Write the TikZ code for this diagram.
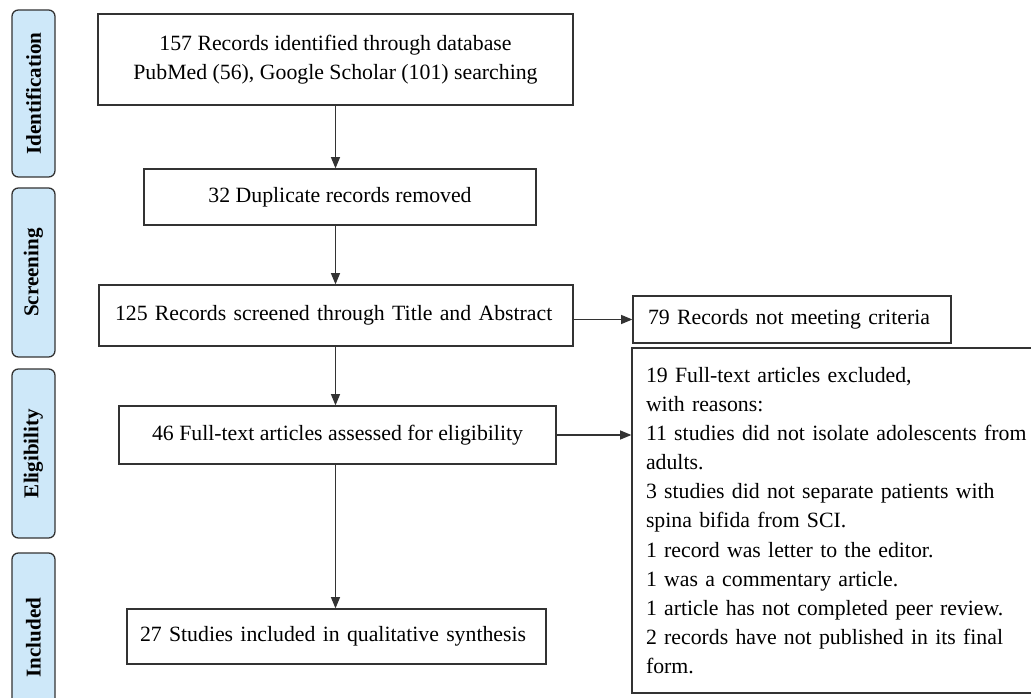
\documentclass[tikz,border=0pt]{standalone}
\usepackage{fontspec}
\setmainfont{Liberation Serif}
\usepackage{xcolor}
\definecolor{prbline}{RGB}{51,51,51}
\definecolor{prbstage}{RGB}{206,232,249}
\usepackage{tikz}
\usetikzlibrary{arrows.meta, positioning}

\tikzset{
  prbfont/.style={font=\fontsize{15.5}{20.7}\selectfont},
  stagebox/.style={draw=prbline, line width=0.9pt, fill=prbstage, rounded corners=4.5pt,
    rotate=90, minimum height=1.075cm, inner sep=0pt,
    font=\fontsize{15}{18}\selectfont\bfseries},
  flowbox/.style={draw=prbline, line width=0.9pt, prbfont, inner sep=0pt, align=center},
  leftbox/.style={draw=prbline, line width=0.9pt, prbfont, inner ysep=0pt, align=left},
  flowarrow/.style={draw=prbline, line width=0.9pt, -{Triangle[length=8pt,width=6.4pt]}}
}

\begin{document}
\begin{tikzpicture}
  \clip (0,0) rectangle (25.775,17.425);

  % --- Stage labels ---
  \node[stagebox, minimum width=4.175cm] (identlab) at (0.8375,15.0875) {Identification};
  \node[stagebox, minimum width=4.225cm] (screenlab) at (0.8375,10.6125) {Screening};
  \node[stagebox, minimum width=4.225cm] (eliglab) at (0.8375,6.0875) {Eligibility};
  \node[stagebox, minimum width=4.225cm] (incllab) at (0.8375,1.4875) {Included};

  % --- Main column ---
  \node[flowbox, minimum width=11.875cm, minimum height=2.275cm] (found) at (8.3875,15.9375)
       {157 Records identified through database\\PubMed (56), Google Scholar (101) searching};
  \node[flowbox, minimum width=9.8cm, minimum height=1.4cm] (dupl) at (8.5,12.5)
       {32 Duplicate records removed};
  \node[leftbox, minimum height=1.525cm, inner xsep=0.4cm, text width=11.05cm] (screened) at (8.4,9.5375)
       {125 Records screened through Title and Abstract\\[4pt]};
  \node[flowbox, minimum width=10.925cm, minimum height=1.45cm] (assessed) at (8.4375,6.55)
       {46 Full-text articles assessed for eligibility};
  \node[leftbox, minimum height=1.375cm, inner xsep=0.325cm, text width=9.825cm] (included) at (8.4125,1.5125)
       {27 Studies included in qualitative synthesis};

  % --- Exclusions ---
  \node[leftbox, minimum height=1.175cm, inner xsep=0.375cm, text width=7.2cm] (notmeet) at (19.8,9.4375)
       {79 Records not meeting criteria};
  \node[leftbox, minimum height=8.625cm, inner xsep=0.35cm, text width=10cm] (excluded) at (21.15,4.4125)
       {19 Full-text articles excluded,\\
        with reasons:\\
        11 studies did not isolate adolescents from\\
        adults.\\
        3 studies did not separate patients with\\
        spina bifida from SCI.\\
        1 record was letter to the editor.\\
        1 was a commentary article.\\
        1 article has not completed peer review.\\
        2 records have not published in its final\\
        form.};

  % --- Connectors ---
  \draw[flowarrow] (found.south) -- (found.south |- dupl.north);
  \draw[flowarrow] (dupl.south -| found.south) -- (found.south |- screened.north);
  \draw[flowarrow] (screened.south -| found.south) -- (found.south |- assessed.north);
  \draw[flowarrow] (assessed.south -| found.south) -- (found.south |- included.north);
  \draw[flowarrow] (notmeet.west -| screened.east) -- (notmeet.west);
  \draw[flowarrow] (assessed.east) -- (assessed.east -| excluded.west);
\end{tikzpicture}
\end{document}
